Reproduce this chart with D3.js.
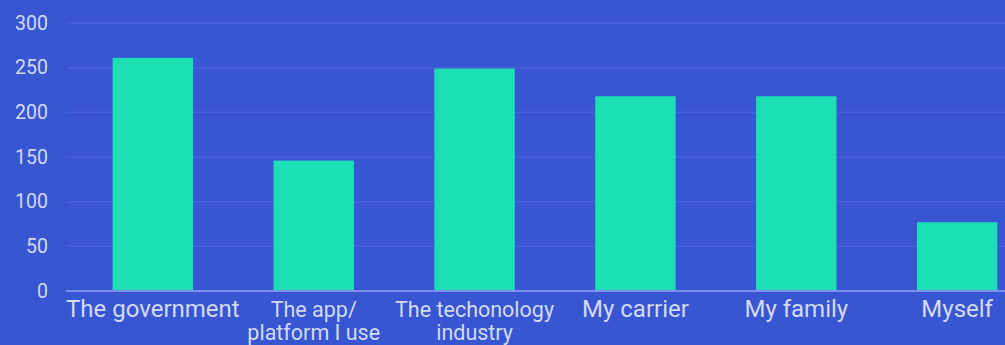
<!DOCTYPE html>
<html>
<head>
<meta charset="utf-8">
<script src="https://cdn.jsdelivr.net/npm/d3@7"></script>
<style>
  html, body { margin: 0; padding: 0; background: #3856d2; overflow: hidden; }
  svg { display: block; }
  text { font-family: Roboto, "Noto Sans", sans-serif; }
</style>
</head>
<body>
<svg id="chart" width="1005" height="345"></svg>
<script>
// Who is responsible for privacy — responses per category
const categories = ["The government", "The app/\nplatform I use", "The techonology\nindustry", "My carrier", "My family", "Myself"];
const values = [261, 146, 249, 218, 218, 77];
const yTicks = [0, 50, 100, 150, 200, 250, 300];

const W = 1005, H = 345;
const svg = d3.select("#chart");

svg.append("rect").attr("width", W).attr("height", H).attr("fill", "#3856d2");

const y = d3.scaleLinear().domain([0, 300]).range([291, 23]);
const x = d3.scaleBand()
  .domain(categories)
  .range([66, 1044])
  .paddingInner(0.5)
  .paddingOuter(0.29);

// horizontal grid
svg.append("g")
  .selectAll("line")
  .data(yTicks.filter(d => d > 0))
  .join("line")
  .attr("x1", 66).attr("x2", W)
  .attr("y1", d => y(d)).attr("y2", d => y(d))
  .attr("stroke", "#4763da")
  .attr("stroke-width", 1.5);

// y axis labels
const yAxis = d3.axisLeft(y).tickValues(yTicks).tickSize(0).tickPadding(0);
const gy = svg.append("g").attr("transform", "translate(48,0)").call(yAxis);
gy.select(".domain").remove();
gy.selectAll("text")
  .attr("fill", "#d2daf8")
  .attr("font-size", 19.5)
  .attr("font-family", "Roboto, sans-serif");

// bars
svg.append("g")
  .selectAll("rect")
  .data(categories)
  .join("rect")
  .attr("x", d => x(d))
  .attr("width", x.bandwidth())
  .attr("y", (d, i) => y(values[i]))
  .attr("height", (d, i) => y(0) - y(values[i]))
  .attr("fill", "#1ddfb6");

// baseline
svg.append("line")
  .attr("x1", 66).attr("x2", W)
  .attr("y1", y(0)).attr("y2", y(0))
  .attr("stroke", "#7d90f2")
  .attr("stroke-width", 2);

// x axis labels; two-line labels are set a little smaller
const xAxis = d3.axisBottom(x).tickSize(0).tickFormat("");
const gx = svg.append("g").attr("transform", `translate(0,${y(0)})`).call(xAxis);
gx.select(".domain").remove();
gx.selectAll(".tick").each(function(d) {
  const lines = d.split("\n");
  const t = d3.select(this).append("text")
    .attr("fill", "#d2daf8")
    .attr("font-size", lines.length > 1 ? 21.5 : 24)
    .attr("text-anchor", "middle")
    .attr("y", 26);
  lines.forEach((line, i) => {
    t.append("tspan").attr("x", 0).attr("dy", i === 0 ? 0 : 23).text(line);
  });
});
</script>
</body>
</html>
